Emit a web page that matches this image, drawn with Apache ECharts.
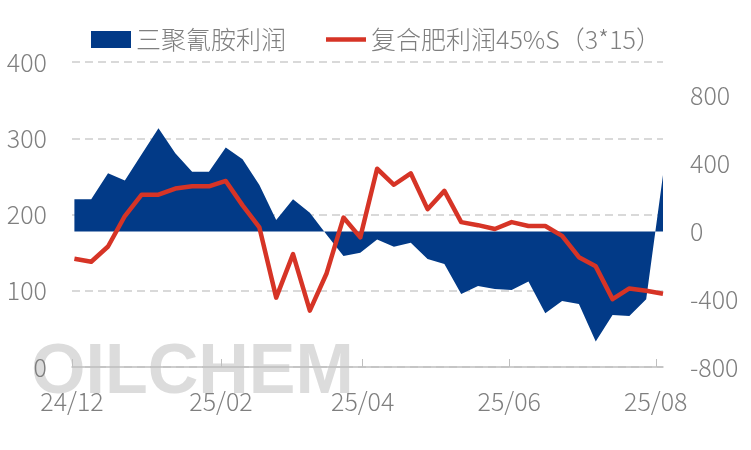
<!DOCTYPE html>
<html>
<head>
<meta charset="utf-8">
<script src="https://cdn.jsdelivr.net/npm/echarts@6/dist/echarts.min.js"></script>
<style>html,body{margin:0;padding:0;background:#fff;}#c{width:751px;height:450px;}</style>
</head>
<body>
<div id="c"></div>
<script>
// Weekly dates
var dates = ['2024-12-02','2024-12-09','2024-12-16','2024-12-23','2024-12-30','2025-01-06','2025-01-13','2025-01-20','2025-01-27','2025-02-03','2025-02-10','2025-02-17','2025-02-24','2025-03-03','2025-03-10','2025-03-17','2025-03-24','2025-03-31','2025-04-07','2025-04-14','2025-04-21','2025-04-28','2025-05-05','2025-05-12','2025-05-19','2025-05-26','2025-06-02','2025-06-09','2025-06-16','2025-06-23','2025-06-30','2025-07-07','2025-07-14','2025-07-21','2025-07-28','2025-08-04'];
// 三聚氰胺利润 (right axis)
var melamine = [190,190,343,300,455,609,462,353,353,495,426,274,68,190,111,-20,-145,-125,-48,-90,-66,-162,-192,-369,-322,-339,-345,-296,-483,-410,-428,-650,-493,-499,-400,333];
// 复合肥利润45%S（3*15） (left axis)
var fertilizer = [142,138,158,198,226,226,234,237,237,244,212,183,91,148,74,123,196,170,260,239,254,207,231,190,186,181,190,185,185,172,144,132,89,103,100,96];
// x tick dates and labels
var xTickDates = ['2024-12-01','2025-02-01','2025-04-01','2025-06-01','2025-08-01'];
var xTickLabels = ['24/12','25/02','25/04','25/06','25/08'];
var seriesNames = ['三聚氰胺利润','复合肥利润45%S（3*15）'];
var axisStart = '2024-12-01', axisEnd = '2025-08-04';

function day(s){var p=s.split('-');return Math.round((Date.UTC(+p[0],+p[1]-1,+p[2]) - Date.UTC(2024,11,1))/86400000);}
var tickVals = xTickDates.map(day);
var FONT = '"Noto Sans CJK SC","Noto Sans",sans-serif';
var GRAY = '#7f7f7f';
var BLUE = '#023a87';
var RED = '#d63426';

var chart = echarts.init(document.getElementById('c'));
chart.setOption({
  animation:false,
  textStyle:{fontFamily:FONT},
  graphic:[{
    type:'text', left:31, top:339, z:-10, silent:true,
    style:{text:'OILCHEM', font:'bold 70px "Liberation Sans", Arial, sans-serif', fill:'rgba(185,185,185,0.5)'}
  }],
  legend:{
    left:86, top:22, itemWidth:40, itemHeight:17, itemGap:40,
    textStyle:{color:GRAY, fontSize:25, fontFamily:FONT, fontWeight:300},
    data:[{name:seriesNames[0], icon:'rect', itemStyle:{color:BLUE}},
          {name:seriesNames[1], icon:'path://M0,0 L44,0 L44,5 L0,5 Z', itemStyle:{color:RED}}]
  },
  grid:{left:72, right:88, top:62, bottom:83},
  xAxis:{
    type:'value', min:day(axisStart), max:day(axisEnd),
    axisLine:{lineStyle:{color:'#bfbfbf', width:1.5}},
    axisTick:{show:true, inside:true, length:8, customValues:tickVals, lineStyle:{color:'#bfbfbf', width:1}},
    axisLabel:{customValues:tickVals, color:GRAY, fontSize:25, fontFamily:FONT, fontWeight:300, margin:22,
      formatter:function(v){var i=tickVals.indexOf(Math.round(v));return i>=0?xTickLabels[i]:'';}},
    splitLine:{show:false}
  },
  yAxis:[{
    type:'value', min:0, max:400, interval:100,
    axisLine:{show:false}, axisTick:{show:false},
    axisLabel:{color:GRAY, fontSize:25, fontFamily:FONT, fontWeight:300, margin:25},
    splitLine:{show:true, lineStyle:{color:'#d9d9d9', width:2, type:[8,5]}}
  },{
    type:'value', min:-800, max:1000, interval:400,
    axisLine:{show:false}, axisTick:{show:false},
    axisLabel:{color:GRAY, fontSize:25, fontFamily:FONT, fontWeight:300, margin:27, showMaxLabel:false},
    splitLine:{show:false}
  }],
  series:[{
    name:seriesNames[0], type:'line', yAxisIndex:1, symbol:'none',
    data:dates.map(function(d,i){return [day(d), melamine[i]];}),
    lineStyle:{width:0, color:BLUE}, itemStyle:{color:BLUE},
    areaStyle:{color:BLUE, opacity:1}, z:1
  },{
    name:seriesNames[1], type:'line', yAxisIndex:0, symbol:'none',
    data:dates.map(function(d,i){return [day(d), fertilizer[i]];}),
    lineStyle:{width:4.5, color:RED, join:'round'}, itemStyle:{color:RED}, z:3
  }]
});
</script>
</body>
</html>
